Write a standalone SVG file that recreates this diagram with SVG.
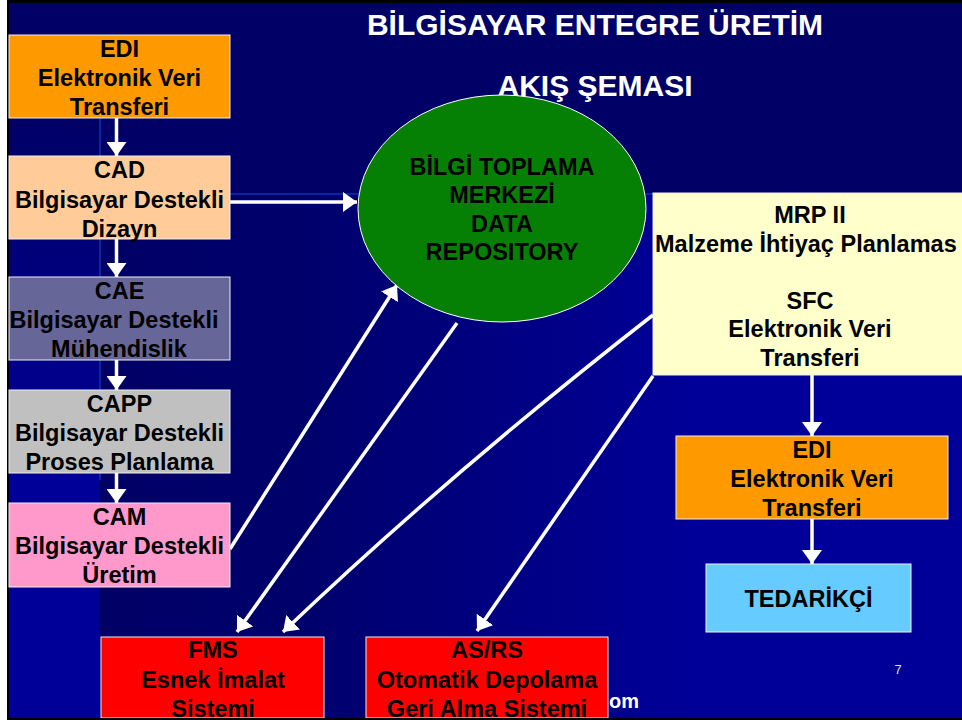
<svg xmlns="http://www.w3.org/2000/svg" width="962" height="723" viewBox="0 0 962 723">
<defs>
<linearGradient id="gLeft" x1="0" y1="118" x2="0" y2="718" gradientUnits="userSpaceOnUse">
<stop offset="0" stop-color="#000066"/>
<stop offset="0.6" stop-color="#000099"/>
<stop offset="1" stop-color="#000099"/>
</linearGradient>
<linearGradient id="gMain" x1="100" y1="0" x2="700" y2="0" gradientUnits="userSpaceOnUse">
<stop offset="0" stop-color="#000066"/>
<stop offset="0.35" stop-color="#00006c"/>
<stop offset="1" stop-color="#000099"/>
</linearGradient>
<marker id="ah" viewBox="0 0 14 20" refX="14" refY="10" markerWidth="14" markerHeight="20" markerUnits="userSpaceOnUse" orient="auto">
<path d="M0,0 L14,10 L0,20 z" fill="#ffffff"/>
</marker>
<style>
.box{stroke:#eeeeee;stroke-width:1}
.t{font-family:"Liberation Sans",Arial,sans-serif;font-weight:bold;font-size:23.5px;fill:#000000;text-anchor:middle}
.title{font-family:"Liberation Sans",Arial,sans-serif;font-weight:bold;font-size:30px;fill:#ffffff;text-anchor:middle}
.c{fill:none;stroke:#ffffff;stroke-width:3.5;marker-end:url(#ah)}
</style>
</defs>
<g id="background">
<rect x="0" y="0" width="962" height="723" fill="#ffffff"/>
<rect x="7" y="0" width="955" height="720" fill="#000000"/>
<rect x="9" y="3" width="953" height="715" fill="#000066"/>
<rect x="9" y="118" width="91" height="600" fill="url(#gLeft)"/>
<rect x="100" y="194" width="862" height="524" fill="url(#gMain)"/>
<line x1="100" y1="118" x2="100" y2="480" stroke="#1040c0" stroke-width="1.5" opacity="0.8"/>
<line x1="100" y1="194" x2="962" y2="194" stroke="#1040c0" stroke-width="1.5" opacity="0.8"/>
</g>
<g id="title">
<text class="title" x="595" y="35">BİLGİSAYAR ENTEGRE ÜRETİM</text>
<text class="title" x="595" y="96">AKIŞ ŞEMASI</text>
</g>
<g id="footer">
<text x="609" y="708" font-family="Liberation Sans, Arial, sans-serif" font-weight="bold" font-size="20" fill="#ffffff">om</text>
<text x="898" y="674" font-family="Liberation Sans, Arial, sans-serif" font-size="13" fill="#dddddd" text-anchor="middle">7</text>
</g>
<g id="connectors">
<line class="c" x1="116.5" y1="118" x2="116.5" y2="156"/>
<line class="c" x1="116.5" y1="239" x2="116.5" y2="277"/>
<line class="c" x1="116.5" y1="360" x2="116.5" y2="390"/>
<line class="c" x1="116.5" y1="473" x2="116.5" y2="503"/>
<line class="c" x1="230" y1="202" x2="357" y2="202"/>
<line class="c" x1="230" y1="549" x2="397" y2="285"/>
<line class="c" x1="457" y1="323" x2="237" y2="632"/>
<path class="c" d="M653,315 Q450,473 283,632"/>
<line class="c" x1="653" y1="376" x2="477" y2="631"/>
<line class="c" x1="812" y1="375" x2="812" y2="436"/>
<line class="c" x1="812" y1="519" x2="812" y2="564"/>
</g>
<g id="edi-left">
<rect class="box" x="9" y="35" width="221" height="83" fill="#ff9900"/>
<text class="t" x="119.5" y="57">EDI</text>
<text class="t" x="119.5" y="86">Elektronik Veri</text>
<text class="t" x="119.5" y="115">Transferi</text>
</g>
<g id="cad">
<rect class="box" x="9" y="156" width="221" height="83" fill="#ffcc99"/>
<text class="t" x="119.5" y="178">CAD</text>
<text class="t" x="119.5" y="208">Bilgisayar Destekli</text>
<text class="t" x="119.5" y="237">Dizayn</text>
</g>
<g id="cae">
<rect class="box" x="9" y="277" width="221" height="83" fill="#666699"/>
<text class="t" x="119.5" y="299">CAE</text>
<text class="t" x="114" y="328">Bilgisayar Destekli</text>
<text class="t" x="119" y="357">Mühendislik</text>
</g>
<g id="capp">
<rect class="box" x="9" y="390" width="221" height="83" fill="#c0c0c0"/>
<text class="t" x="119.5" y="412">CAPP</text>
<text class="t" x="119.5" y="441">Bilgisayar Destekli</text>
<text class="t" x="119.5" y="470">Proses Planlama</text>
</g>
<g id="cam">
<rect class="box" x="9" y="503" width="221" height="84" fill="#ff99cc"/>
<text class="t" x="119.5" y="525">CAM</text>
<text class="t" x="119.5" y="554">Bilgisayar Destekli</text>
<text class="t" x="119.5" y="583">Üretim</text>
</g>
<g id="repository">
<ellipse cx="502" cy="208.5" rx="144" ry="113.5" fill="#058005" stroke="#ffffff" stroke-width="1"/>
<text class="t" x="502" y="175">BİLGİ TOPLAMA</text>
<text class="t" x="502" y="203">MERKEZİ</text>
<text class="t" x="502" y="232">DATA</text>
<text class="t" x="502" y="260">REPOSITORY</text>
</g>
<g id="mrp">
<rect class="box" x="653" y="193" width="314" height="182" fill="#ffffcc"/>
<text class="t" x="810" y="223">MRP II</text>
<text class="t" x="655" y="251.5" style="text-anchor:start">Malzeme İhtiyaç Planlamas</text>
<text class="t" x="810" y="308.5">SFC</text>
<text class="t" x="810" y="337">Elektronik Veri</text>
<text class="t" x="810" y="365.5">Transferi</text>
</g>
<g id="edi-right">
<rect class="box" x="676" y="436" width="272" height="83" fill="#ff9900"/>
<text class="t" x="812" y="458">EDI</text>
<text class="t" x="812" y="487">Elektronik Veri</text>
<text class="t" x="812" y="516">Transferi</text>
</g>
<g id="tedarikci">
<rect class="box" x="706" y="564" width="205" height="68" fill="#66ccff"/>
<text class="t" x="808.5" y="607">TEDARİKÇİ</text>
</g>
<g id="fms">
<rect class="box" x="101" y="637" width="223" height="81" fill="#ff0000"/>
<text class="t" x="213" y="658">FMS</text>
<text class="t" x="213" y="688">Esnek İmalat</text>
<text class="t" x="213" y="717">Sistemi</text>
</g>
<g id="asrs">
<rect class="box" x="366" y="637" width="242" height="81" fill="#ff0000"/>
<text class="t" x="487" y="658">AS/RS</text>
<text class="t" x="487" y="688">Otomatik Depolama</text>
<text class="t" x="487" y="717">Geri Alma Sistemi</text>
</g>
<g id="frame-bottom">
<rect x="7" y="718" width="955" height="2" fill="#000000"/>
</g>
</svg>
